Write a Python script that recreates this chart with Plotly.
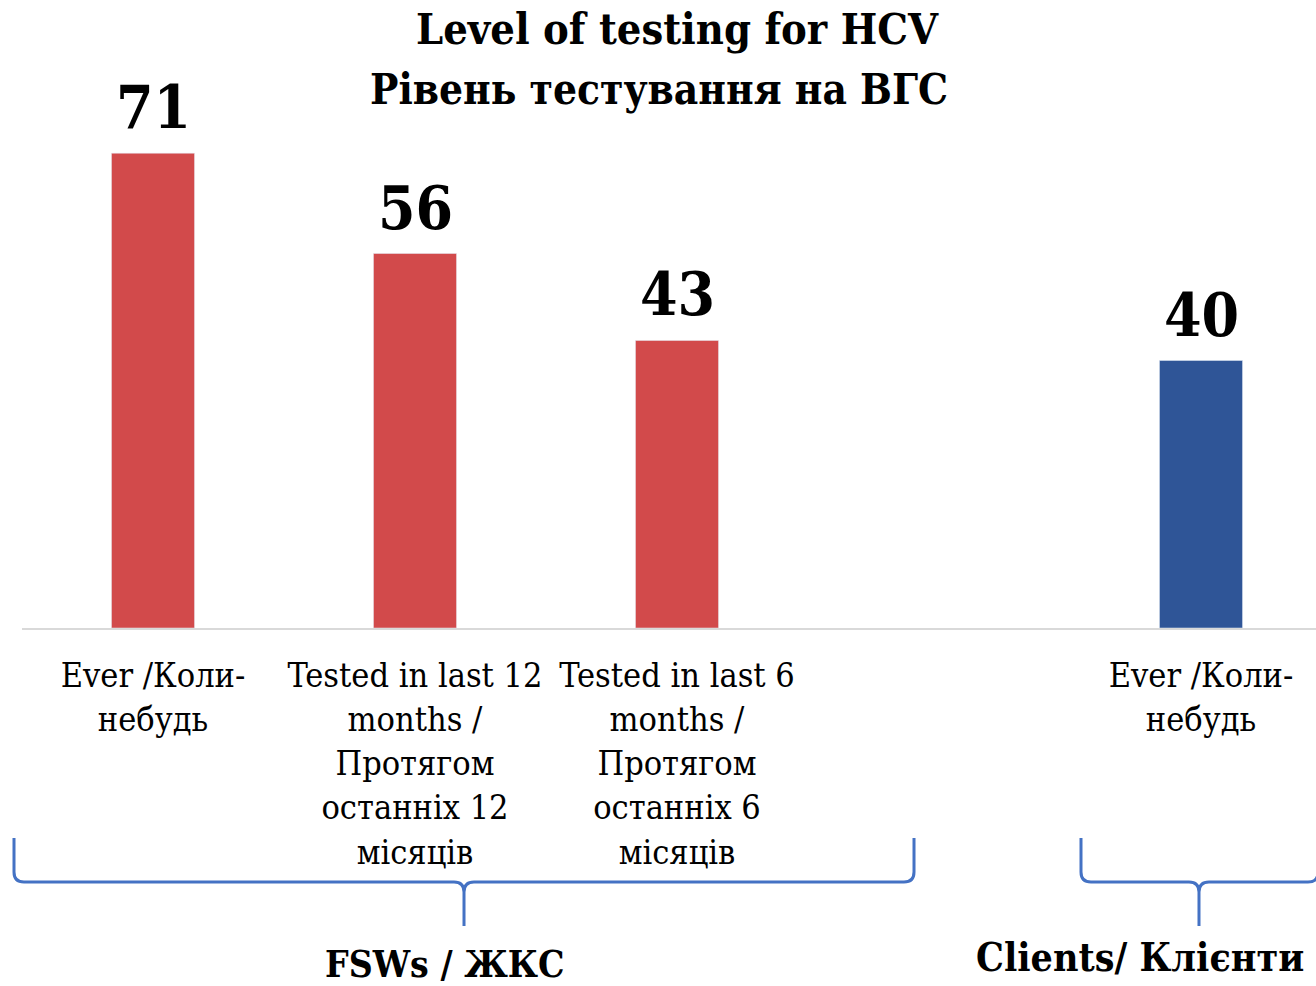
import plotly.graph_objects as go

# ---- data ----
categories = [
    "Ever /Коли-<br>небудь",
    "Tested in last 12<br>months /<br>Протягом<br>останніх 12<br>місяців",
    "Tested in last 6<br>months /<br>Протягом<br>останніх 6<br>місяців",
    "",
    "Ever /Коли-<br>небудь",
]
values = [71, 56, 43, None, 40]
bar_colors = ["#D24A4B", "#D24A4B", "#D24A4B", "#D24A4B", "#2F5597"]
title_lines = ["Level of testing for HCV", "Рівень тестування на ВГС"]
group_labels = ["FSWs / ЖКС", "Clients/ Клієнти"]

FONT = "DejaVu Serif Condensed, DejaVu Serif, serif"
W, H = 1316, 986
L, R_EDGE, TOP, BASE = 22, 1316, 93, 628  # page pixel coordinates

def pxx(px):
    return (px - L) / (R_EDGE - L)

def pxy(py):
    return (BASE - py) / (BASE - TOP)

xs = list(range(len(categories)))

fig = go.Figure()
fig.add_trace(go.Bar(
    x=xs, y=values, marker_color=bar_colors, width=0.317,
    hoverinfo="skip",
))

for x, v in zip(xs, values):
    if v is None:
        continue
    fig.add_annotation(x=x, y=v, xref="x", yref="y", text="<b>%d</b>" % v,
                       showarrow=False, xanchor="center", yanchor="bottom",
                       yshift=9,
                       font=dict(family=FONT, size=60, color="black"))

span = (R_EDGE - L) / 262.0
fig.update_layout(
    width=W, height=H,
    margin=dict(l=L, r=0, t=TOP, b=(H - BASE), pad=0),
    paper_bgcolor="white", plot_bgcolor="white",
    showlegend=False,
    xaxis=dict(range=[-0.5, -0.5 + span], tickvals=xs, ticktext=categories,
               showline=True, linecolor="#D9D9D9", linewidth=2,
               showgrid=False, zeroline=False, ticks="", tickangle=0,
               ticklabelstandoff=16, fixedrange=True,
               tickfont=dict(family=FONT, size=34, color="black")),
    yaxis=dict(range=[0, 80], visible=False, fixedrange=True),
)

def ann(text, x, y, size):
    fig.add_annotation(text="<b>%s</b>" % text, x=pxx(x), y=pxy(y),
                       xref="paper", yref="paper", showarrow=False,
                       xanchor="center", yanchor="middle",
                       font=dict(family=FONT, size=size, color="black"))

ann(title_lines[0], 677, 29, 43)
ann(title_lines[1], 659, 90, 42)
ann(group_labels[0], 445, 964, 37)
ann(group_labels[1], 1140, 957, 39)

def brace(x0, xm, x1, ytop, ymid, ytip):
    r = 10
    pts = lambda a, b: "%.5f,%.5f" % (pxx(a), pxy(b))
    d = "M %s L %s Q %s %s L %s Q %s %s L %s" % (
        pts(x0, ytop), pts(x0, ymid - r), pts(x0, ymid), pts(x0 + r, ymid),
        pts(xm - r, ymid), pts(xm, ymid), pts(xm, ymid + r), pts(xm, ytip))
    d += " M %s L %s Q %s %s L %s Q %s %s L %s" % (
        pts(xm, ytip), pts(xm, ymid + r), pts(xm, ymid), pts(xm + r, ymid),
        pts(x1 - r, ymid), pts(x1, ymid), pts(x1, ymid - r), pts(x1, ytop))
    return d

for (a, m, b) in [(14, 464, 914), (1081, 1199, 1318)]:
    fig.add_shape(type="path", path=brace(a, m, b, 838, 882, 926),
                  xref="paper", yref="paper",
                  line=dict(color="#4472C4", width=3))

fig.write_html("out.html", config={"displayModeBar": False},
               post_script="document.body.style.margin='0';document.body.style.overflow='hidden';")
